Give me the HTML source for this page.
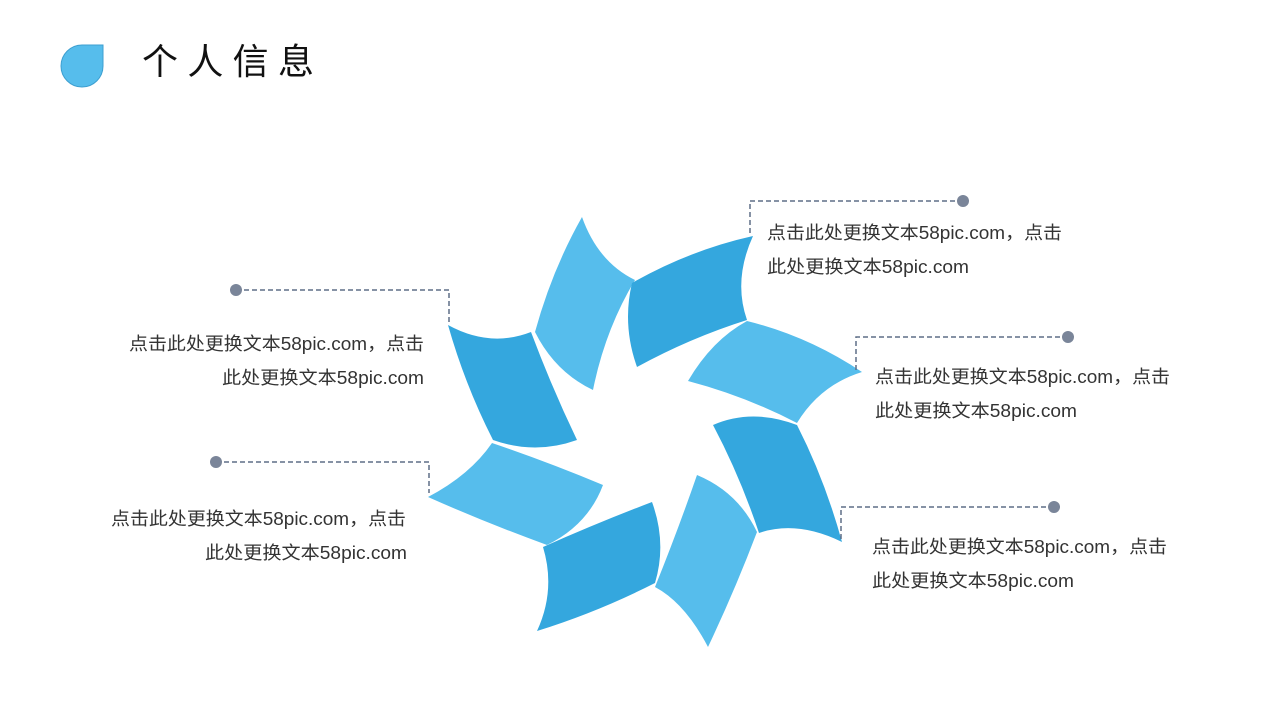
<!DOCTYPE html>
<html><head><meta charset="utf-8"><style>
html,body{margin:0;padding:0;background:#fff;}
svg{display:block;}
text{font-family:"Liberation Sans","Noto Sans CJK SC",sans-serif;fill:#333;}
</style></head><body>
<svg width="1280" height="720" viewBox="0 0 1280 720" xmlns="http://www.w3.org/2000/svg">
<path d="M103,45 L103,66 A21,21 0 1 1 82,45 Z" fill="#56bdec" stroke="#3d9fd0" stroke-width="1"/>
<text x="142" y="74" font-size="36" style="fill:#111" textLength="172" lengthAdjust="spacing">个人信息</text>

<g>
<path d="M582,217 Q598,262 635,280 Q605,330 593,390 Q555,372 535,332 Q552,270 582,217 Z" fill="#56bdec"/>
<path d="M632,283 Q690,250 753,236 Q733,280 747,320 Q690,338 637,367 Q622,325 632,283 Z" fill="#34a7de"/>
<path d="M688,381 Q712,340 747,321 Q808,336 862,372 Q820,385 797,423 Q745,396 688,381 Z" fill="#56bdec"/>
<path d="M713,425 Q752,408 797,425 Q825,480 842,542 Q797,520 759,533 Q740,476 713,425 Z" fill="#34a7de"/>
<path d="M697,475 Q738,492 757,532 Q735,590 708,647 Q685,603 655,587 Q678,530 697,475 Z" fill="#56bdec"/>
<path d="M543,547 Q597,523 652,502 Q667,543 655,583 Q598,612 537,631 Q556,590 543,547 Z" fill="#34a7de"/>
<path d="M428,497 Q470,475 492,443 Q548,462 603,485 Q588,525 547,545 Q484,522 428,497 Z" fill="#56bdec"/>
<path d="M448,325 Q490,348 531,332 Q552,388 577,440 Q535,455 493,440 Q465,385 448,325 Z" fill="#34a7de"/>
</g>

<g fill="none" stroke="#5f6f87" stroke-width="1.5" stroke-dasharray="5,3">
<path d="M963,201 H750 V233"/>
<path d="M1068,337 H856 V372"/>
<path d="M1054,507 H841 V540"/>
<path d="M236,290 H449 V322"/>
<path d="M216,462 H429 V493"/>
</g>
<g fill="#7a8599">
<circle cx="963" cy="201" r="6"/>
<circle cx="1068" cy="337" r="6"/>
<circle cx="1054" cy="507" r="6"/>
<circle cx="236" cy="290" r="6"/>
<circle cx="216" cy="462" r="6"/>
</g>

<g font-size="18">
<text x="767" y="239" textLength="295" lengthAdjust="spacingAndGlyphs">点击此处更换文本58pic.com，点击</text>
<text x="767" y="273" textLength="202" lengthAdjust="spacingAndGlyphs">此处更换文本58pic.com</text>
<text x="875" y="383" textLength="295" lengthAdjust="spacingAndGlyphs">点击此处更换文本58pic.com，点击</text>
<text x="875" y="417" textLength="202" lengthAdjust="spacingAndGlyphs">此处更换文本58pic.com</text>
<text x="872" y="553" textLength="295" lengthAdjust="spacingAndGlyphs">点击此处更换文本58pic.com，点击</text>
<text x="872" y="587" textLength="202" lengthAdjust="spacingAndGlyphs">此处更换文本58pic.com</text>
<text x="129" y="350" textLength="295" lengthAdjust="spacingAndGlyphs">点击此处更换文本58pic.com，点击</text>
<text x="222" y="384" textLength="202" lengthAdjust="spacingAndGlyphs">此处更换文本58pic.com</text>
<text x="111" y="525" textLength="295" lengthAdjust="spacingAndGlyphs">点击此处更换文本58pic.com，点击</text>
<text x="205" y="559" textLength="202" lengthAdjust="spacingAndGlyphs">此处更换文本58pic.com</text>
</g>
</svg>
</body></html>
